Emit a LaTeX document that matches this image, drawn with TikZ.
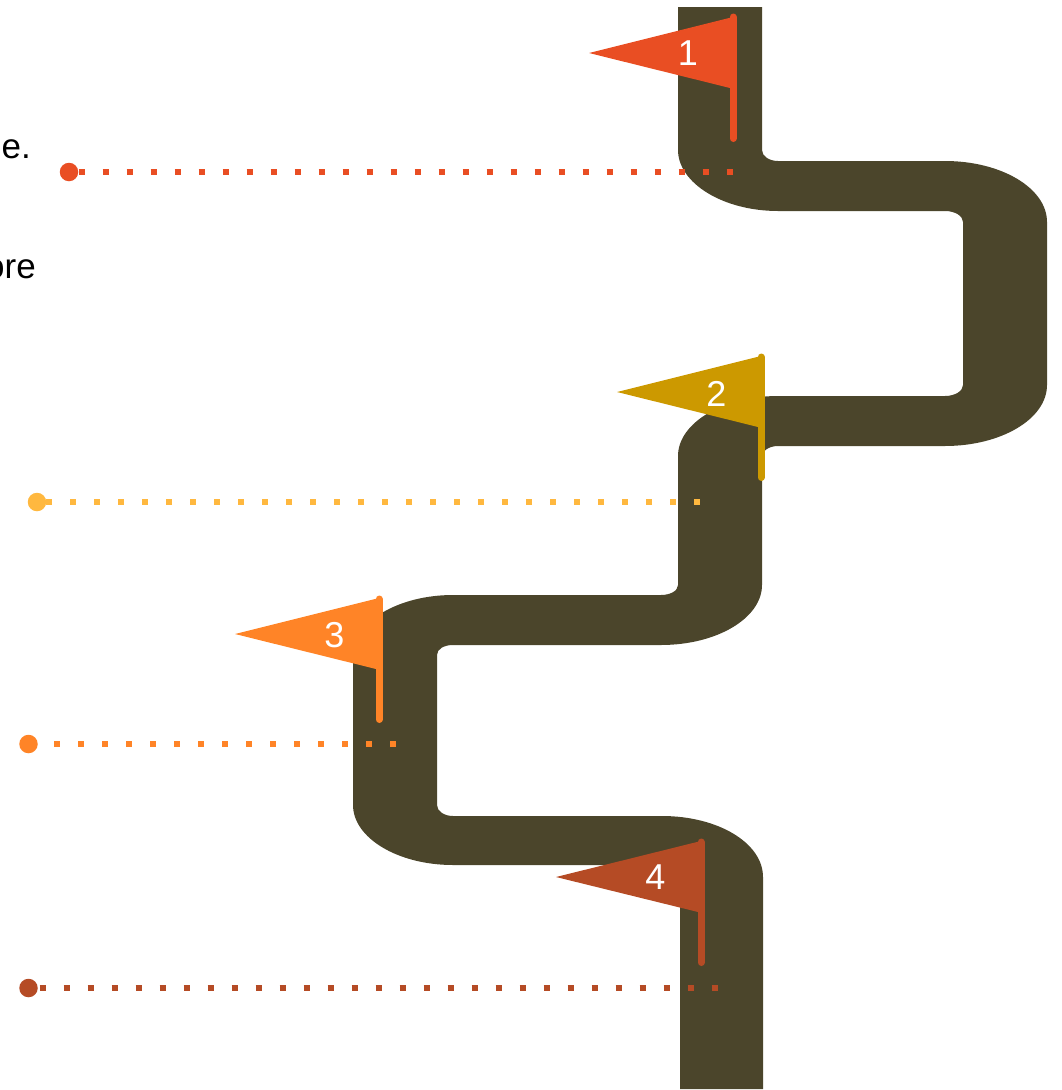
\documentclass[tikz,border=0pt]{standalone}
\usepackage{fontspec}
\setmainfont{Liberation Sans}
\definecolor{roadcol}{HTML}{4B452B}
\definecolor{redcol}{HTML}{E94E23}
\definecolor{goldcol}{HTML}{CC9900}
\definecolor{ambercol}{HTML}{FFB83F}
\definecolor{orangecol}{HTML}{FF8427}
\definecolor{rustcol}{HTML}{B54B25}
\tikzset{
  trail/.style={line width=6pt,line cap=butt,dash pattern=on 6pt off 18pt},
  pole/.style={line width=7pt,line cap=round},
  dot/.style={circle,minimum size=18.5pt,inner sep=0pt},
  num/.style={text=white,font=\fontsize{36}{36}\selectfont,inner sep=0pt},
  cut/.style={font=\fontsize{35}{35}\selectfont,anchor=base east,inner sep=0pt}
}
\begin{document}
\begin{tikzpicture}[x=1pt,y=-1pt,line join=miter]
  \useasboundingbox (0,0) rectangle (1061,1090);
  % road
  \fill[roadcol] (678,7) -- (678,150)
    .. controls (678,183) and (723,211) .. (778,211) -- (945,211)
    .. controls (955,211) and (963,216) .. (963,222) -- (963,385)
    .. controls (963,391) and (955,396) .. (945,396) -- (778,396)
    .. controls (723,396) and (678,423) .. (678,456) -- (678,585)
    .. controls (678,591) and (670,595) .. (661,595) -- (453,595)
    .. controls (398,595) and (353,622) .. (353,655) -- (353,805)
    .. controls (353,838) and (398,865) .. (453,865) -- (662,865)
    .. controls (672,865) and (680,870) .. (680,877) -- (680,1089)
    -- (763,1089) -- (763,877)
    .. controls (763,843) and (718,816) .. (662,816) -- (453,816)
    .. controls (444,816) and (437,811) .. (437,805) -- (437,655)
    .. controls (437,649) and (444,645) .. (453,645) -- (661,645)
    .. controls (717,645) and (762,618) .. (762,585) -- (762,456)
    .. controls (762,451) and (769,446) .. (778,446) -- (945,446)
    .. controls (1001,446) and (1047,419) .. (1047,385) -- (1047,222)
    .. controls (1047,188) and (1001,161) .. (945,161) -- (778,161)
    .. controls (769,161) and (762,156) .. (762,150) -- (762,7) -- cycle;
  % text cut by the edge
  \node[cut] (line1) at (31,158) {e.};
  \node[cut] (line2) at (36,278) {ore};
  % dotted lines
  \node[dot,fill=redcol] (dot1) at (69,172) {};
  \node[dot,fill=ambercol] (dot2) at (37,502) {};
  \node[dot,fill=orangecol] (dot3) at (28.5,744) {};
  \node[dot,fill=rustcol] (dot4) at (28.5,988) {};
  \coordinate (end1) at (733,172);
  \coordinate (end2) at (700,502);
  \coordinate (end3) at (396,744);
  \coordinate (end4) at (718,988);
  \draw[trail,redcol,dash phase=14.4pt] (dot1.center) -- (end1);
  \draw[trail,ambercol,dash phase=15pt] (dot2.center) -- (end2);
  \draw[trail,orangecol,dash phase=22.5pt] (dot3.center) -- (end3);
  \draw[trail,rustcol,dash phase=12.8pt] (dot4.center) -- (end4);
  % flags
  \fill[redcol] (589,53) -- (733,17) -- (736,17) -- (736,89) -- (730,88) -- cycle;
  \draw[pole,redcol] (733,17) -- (733,138.5);
  \fill[goldcol] (617,392) -- (761,356) -- (764,356) -- (764,428) -- (758,427) -- cycle;
  \draw[pole,goldcol] (761,357) -- (761,477.5);
  \fill[orangecol] (235,634) -- (379,598) -- (382,598) -- (382,670) -- (376,669) -- cycle;
  \draw[pole,orangecol] (379,599) -- (379,719.5);
  \fill[rustcol] (556,877) -- (701,841) -- (704,841) -- (704,913) -- (698,912) -- cycle;
  \draw[pole,rustcol] (701,842) -- (701,962.5);
  \node[num] (num1) at (688,53) {1};
  \node[num] (num2) at (716.5,394) {2};
  \node[num] (num3) at (334.5,635) {3};
  \node[num] (num4) at (655.5,877) {4};
\end{tikzpicture}
\end{document}
